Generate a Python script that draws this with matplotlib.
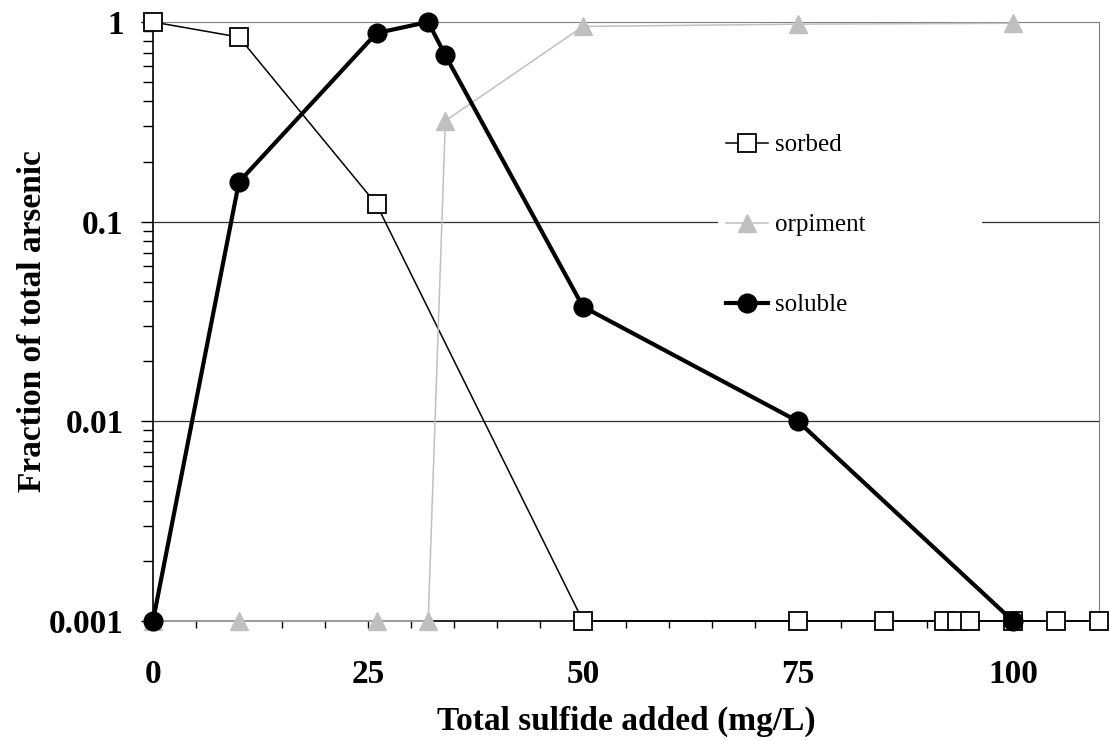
import matplotlib.pyplot as plt
from matplotlib.patches import Rectangle
import numpy as np

plt.rcParams['font.family'] = ['Liberation Serif', 'DejaVu Serif']

# total sulfide added (mg/L)
x_sorbed = [0, 10, 26, 50, 75, 85, 92, 93.5, 95, 100, 105, 110]
sorbed = [1.0, 0.84, 0.122, 0.001, 0.001, 0.001, 0.001, 0.001, 0.001, 0.001, 0.001, 0.001]

x_orpiment = [0, 10, 26, 32, 34, 50, 75, 100]
orpiment = [0.001, 0.001, 0.001, 0.001, 0.32, 0.95, 0.975, 0.985]

x_soluble = [0, 10, 26, 32, 34, 50, 75, 100]
soluble = [0.001, 0.158, 0.88, 1.0, 0.68, 0.0375, 0.01, 0.001]

xtick_pos = [0, 25, 50, 75, 100]
ytick_pos = [0.001, 0.01, 0.1, 1]
ytick_lab = ['0.001', '0.01', '0.1', '1']

fig = plt.figure(figsize=(11.1, 7.4), dpi=100)
ax = fig.add_axes([0.1378, 0.1608, 0.8523, 0.8095])

ax.set_yscale('log')
ax.set_xlim(0, 110)
ax.set_ylim(0.001, 1)

# horizontal grid at the inner decades
for g in [0.01, 0.1]:
    ax.axhline(g, color='#303030', lw=0.9, zorder=1)

ax.plot(x_sorbed, sorbed, color='black', lw=1.1, marker='s', ms=12.5,
        mfc='white', mec='black', mew=1.3, clip_on=False, zorder=3, label='sorbed')
ax.plot(x_orpiment, orpiment, color='#c0c0c0', lw=1.1, marker='^', ms=13,
        mfc='#c0c0c0', mec='#c0c0c0', clip_on=False, zorder=4, label='orpiment')
ax.plot(x_soluble, soluble, color='black', lw=3.0, marker='o', ms=13.5,
        mfc='black', mec='black', clip_on=False, zorder=5, label='soluble')

# white block behind the legend
ax.add_patch(Rectangle((0.597, 0.50), 0.279, 0.34, transform=ax.transAxes,
                       facecolor='white', edgecolor='none', zorder=2))

leg = ax.legend(loc='upper left', bbox_to_anchor=(0.6057, 0.813), frameon=False,
                fontsize=18, labelspacing=2.3, handlelength=1.7, handletextpad=0.25,
                borderpad=0, borderaxespad=0)
leg.set_zorder(6)

ax.spines['top'].set_color('#808080')
ax.spines['right'].set_color('#808080')
ax.spines['left'].set_linewidth(1.2)
ax.spines['bottom'].set_linewidth(1.2)

ax.set_xticks(np.arange(0, 111, 5), minor=True)
ax.set_xticks(xtick_pos)
ax.set_xticklabels([str(v) for v in xtick_pos])
ax.set_yticks(ytick_pos)
ax.set_yticklabels(ytick_lab)
ax.yaxis.set_minor_locator(plt.matplotlib.ticker.LogLocator(base=10, subs=np.arange(2, 10)))
ax.yaxis.set_minor_formatter(plt.NullFormatter())

ax.tick_params(axis='x', which='both', direction='out', length=5, width=1, top=False)
ax.tick_params(axis='x', which='major', pad=22, labelsize=24)
ax.tick_params(axis='y', which='major', direction='out', length=9, width=1, pad=12, labelsize=24, right=False)
ax.tick_params(axis='y', which='minor', direction='out', length=7, width=1, right=False)
for lab in ax.get_xticklabels() + ax.get_yticklabels():
    lab.set_fontweight('bold')

ax.set_xlabel('Total sulfide added (mg/L)', fontsize=24, fontweight='bold', labelpad=12)
ax.set_ylabel('Fraction of total arsenic', fontsize=24, fontweight='bold', labelpad=1)

fig.savefig('out.png', dpi=100)
